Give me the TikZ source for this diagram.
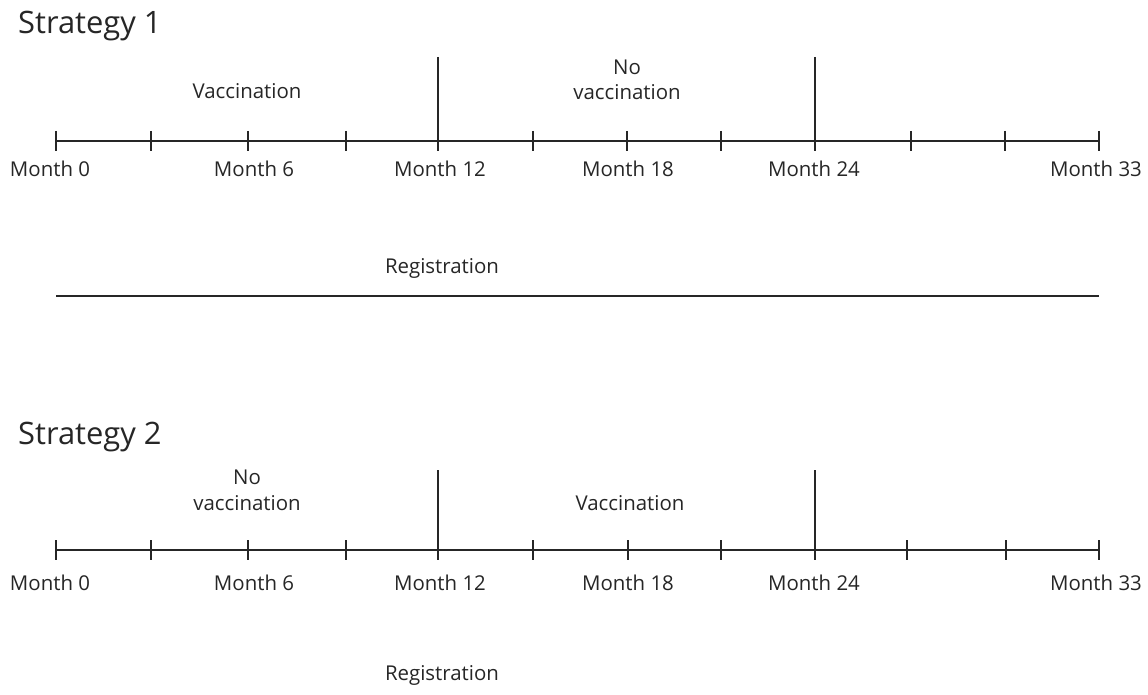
\documentclass[tikz,border=0pt]{standalone}
\usepackage{fontspec}
\setmainfont{Open Sans}
\begin{document}
\begin{tikzpicture}[x=1bp,y=-1bp,
  tl/.style={line width=1.6bp, draw=black!85},
  reg/.style={line width=2.2bp, draw=black!85},
  lbl/.style={font=\fontsize{20.5}{26}\selectfont, inner sep=0pt, text=black!85, anchor=base, align=center},
  title/.style={font=\fontsize{31}{36}\selectfont, inner sep=0pt, text=black!85, anchor=base west}]
\useasboundingbox (0,0) rectangle (1148,695);

% ---------- Strategy 1 ----------
\node[title] (st1) at (18,34) {Strategy 1};
\foreach \i/\x in {0/56,1/151,2/248,3/346,4/438,5/533,6/627,7/721,8/815,9/911,10/1005,11/1099}
  \coordinate (a\i) at (\x,141);
\draw[tl] (a0) -- (a11);
\foreach \i in {0,1,2,3,5,6,7,9,10,11}
  \draw[tl] ([yshift=10bp]a\i) -- ([yshift=-10bp]a\i);
\foreach \i in {4,8}
  \draw[tl] ([yshift=84bp]a\i) -- ([yshift=-10bp]a\i);
\node[lbl] (a0l) at (50,177) {Month 0};
\node[lbl] (a2l) at (254,177) {Month 6};
\node[lbl] (a4l) at (440,177) {Month 12};
\node[lbl] (a6l) at (628,177) {Month 18};
\node[lbl] (a8l) at (814,177) {Month 24};
\node[lbl] (a11l) at (1096,177) {Month 33};
\node[lbl] (a1v) at (247,99) {Vaccination};
\node[lbl] (a1n) at (627,100) {No\\vaccination};
\node[lbl] (a1r) at (442,273) {Registration};
\coordinate (r1a) at (56,296);
\coordinate (r1b) at (1099,296);
\draw[reg] (r1a) -- (r1b);

% ---------- Strategy 2 ----------
\node[title] (st2) at (18,444) {Strategy 2};
\foreach \i/\x in {0/56,1/151,2/248,3/346,4/438,5/533,6/628,7/721,8/815,9/907,10/1006,11/1099}
  \coordinate (b\i) at (\x,550);
\draw[tl] (b0) -- (b11);
\foreach \i in {0,1,2,3,5,6,7,9,10,11}
  \draw[tl] ([yshift=10bp]b\i) -- ([yshift=-10bp]b\i);
\foreach \i in {4,8}
  \draw[tl] ([yshift=80bp]b\i) -- ([yshift=-10bp]b\i);
\node[lbl] (b0l) at (50,590) {Month 0};
\node[lbl] (b2l) at (254,590) {Month 6};
\node[lbl] (b4l) at (440,590) {Month 12};
\node[lbl] (b6l) at (628,590) {Month 18};
\node[lbl] (b8l) at (814,590) {Month 24};
\node[lbl] (b11l) at (1096,590) {Month 33};
\node[lbl] (b1n) at (247,510) {No\\vaccination};
\node[lbl] (b1v) at (630,510) {Vaccination};
\node[lbl] (b1r) at (442,680) {Registration};
\end{tikzpicture}
\end{document}
